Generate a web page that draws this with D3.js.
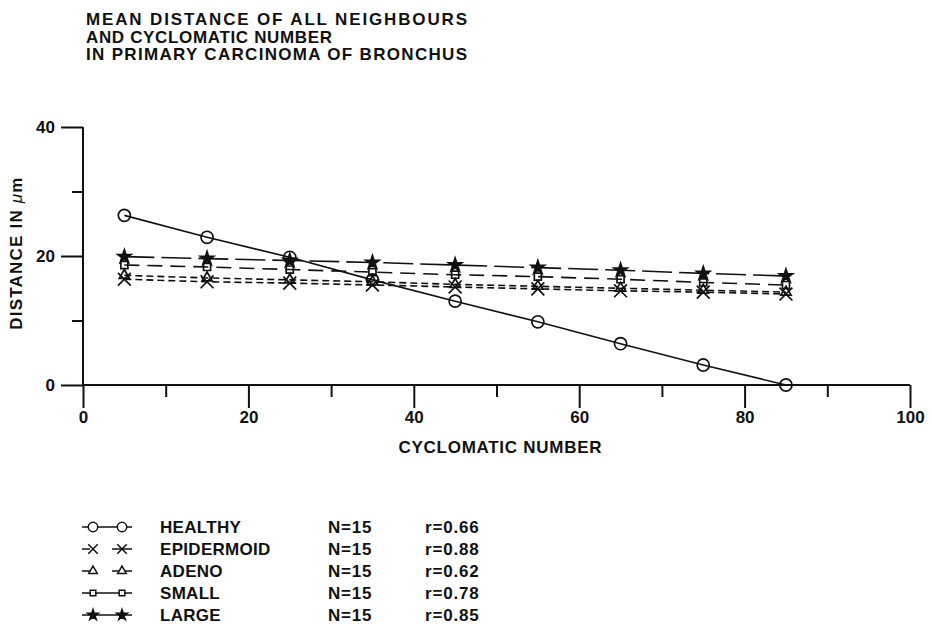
<!DOCTYPE html>
<html>
<head>
<meta charset="utf-8">
<script src="https://cdn.jsdelivr.net/npm/d3@7"></script>
<style>
  html, body { margin: 0; padding: 0; background: #fff; }
  svg { display: block; }
  text { font-family: "Liberation Sans", Arial, sans-serif; font-weight: bold; fill: #111; }
</style>
</head>
<body>
<svg id="chart" width="932" height="627"></svg>
<script>
// ---- data ----
const titleLines = ["MEAN DISTANCE OF ALL NEIGHBOURS", "AND CYCLOMATIC NUMBER", "IN PRIMARY CARCINOMA OF BRONCHUS"];
const cyclomatic = [5, 15, 25, 35, 45, 55, 65, 75, 85];
const healthy    = [26.3, 22.9, 19.8, 16.3, 13.0, 9.8, 6.4, 3.1, 0.0];
const epidermoid = [16.4, 16.0, 15.8, 15.5, 15.2, 14.9, 14.6, 14.4, 14.1];
const adeno      = [17.0, 16.6, 16.3, 16.0, 15.6, 15.3, 15.0, 14.7, 14.4];
const small      = [18.6, 18.3, 17.9, 17.5, 17.1, 16.8, 16.4, 15.9, 15.5];
const large      = [19.9, 19.6, 19.3, 19.0, 18.6, 18.2, 17.8, 17.3, 16.9];
const seriesNames = ["HEALTHY", "EPIDERMOID", "ADENO", "SMALL", "LARGE"];
const nLabels = ["N=15", "N=15", "N=15", "N=15", "N=15"];
const rLabels = ["r=0.66", "r=0.88", "r=0.62", "r=0.78", "r=0.85"];
const xTicks = [0, 20, 40, 60, 80, 100];
const xMinorTicks = [10, 30, 50, 70, 90];
const yTicks = [0, 20, 40];
const yMinorTicks = [10, 30];
const xTitle = "CYCLOMATIC NUMBER";

// ---- styles ----
const seriesData = [healthy, epidermoid, adeno, small, large];
const dashes = [null, "7,4", "7,4", "15,8", "30,7"];
const symbols = [d3.symbolCircle, d3.symbolTimes, d3.symbolTriangle, d3.symbolSquare, d3.symbolStar];
const symSizes = [115, 110, 45, 50, 55];
const symFill = ["none", "none", "none", "none", "#111"];
const legendSizes = [70, 60, 32, 32, 35];

const svg = d3.select("#chart");
const x = d3.scaleLinear().domain([0, 100]).range([83, 910]);
const y = d3.scaleLinear().domain([0, 40]).range([385, 127]);

// title
const titleWidths = [381, 246, 381];
svg.append("g").selectAll("text").data(titleLines).join("text")
  .attr("x", 86).attr("y", (d, i) => 25 + i * 17.5)
  .attr("font-size", 17)
  .attr("textLength", (d, i) => titleWidths[i])
  .attr("lengthAdjust", "spacing")
  .text(d => d);

// axes
const xAxisMajor = d3.axisBottom(x).tickValues(xTicks).tickSize(23).tickPadding(3).tickFormat(d3.format("d"));
const xAxisMinor = d3.axisBottom(x).tickValues(xMinorTicks).tickSize(12).tickFormat("");
const yAxisMajor = d3.axisLeft(y).tickValues(yTicks).tickSize(22).tickPadding(6).tickFormat(d3.format("d"));
const yAxisMinor = d3.axisLeft(y).tickValues(yMinorTicks).tickSize(11).tickFormat("");

function styleAxis(g) {
  g.select(".domain").attr("stroke", "#111").attr("stroke-width", 2);
  g.selectAll(".tick line").attr("stroke", "#111").attr("stroke-width", 2);
  g.selectAll(".tick text").attr("font-size", 17).attr("fill", "#111")
    .attr("font-family", "'Liberation Sans', Arial, sans-serif").attr("font-weight", "bold");
}
svg.append("g").attr("transform", "translate(0,385)").call(xAxisMajor).call(styleAxis)
  .call(g => g.select(".domain").attr("d", "M83,0H910"));
svg.append("g").attr("transform", "translate(0,385)").call(xAxisMinor).call(styleAxis)
  .call(g => g.select(".domain").remove());
svg.append("g").attr("transform", "translate(83,0)").call(yAxisMajor).call(styleAxis)
  .call(g => g.select(".domain").attr("d", "M0,127V385"));
svg.append("g").attr("transform", "translate(83,0)").call(yAxisMinor).call(styleAxis)
  .call(g => g.select(".domain").remove());

// axis titles
svg.append("text").attr("x", 500).attr("y", 453).attr("text-anchor", "middle")
  .attr("font-size", 17).attr("textLength", 203).attr("lengthAdjust", "spacing").text(xTitle);
const yl = svg.append("text").attr("transform", "translate(22,253) rotate(-90)")
  .attr("text-anchor", "middle").attr("font-size", 17).attr("letter-spacing", 1.2);
yl.append("tspan").text("DISTANCE IN ");
yl.append("tspan").attr("font-style", "italic").attr("font-weight", "normal").text("\u03bc");
yl.append("tspan").text("m");

// series lines and markers
const line = d3.line().x(d => x(d[0])).y(d => y(d[1]));
seriesData.forEach((vals, i) => {
  const pts = cyclomatic.map((c, j) => [c, vals[j]]);
  svg.append("path").datum(pts).attr("d", line)
    .attr("fill", "none").attr("stroke", "#111").attr("stroke-width", 1.6)
    .attr("stroke-dasharray", dashes[i]);
  svg.append("g").selectAll("path").data(pts).join("path")
    .attr("transform", d => `translate(${x(d[0])},${y(d[1])})`)
    .attr("d", d3.symbol().type(symbols[i]).size(symSizes[i]))
    .attr("fill", symFill[i] === "none" ? "#fff" : symFill[i])
    .attr("fill-opacity", symFill[i] === "none" ? 0 : 1)
    .attr("stroke", "#111").attr("stroke-width", 1.7);
});

// legend
const legendY = [527, 549, 571, 593, 615];
const lg = svg.append("g");
seriesNames.forEach((name, i) => {
  const yy = legendY[i];
  lg.append("line").attr("x1", 82).attr("x2", 132).attr("y1", yy).attr("y2", yy)
    .attr("stroke", "#111").attr("stroke-width", 1.5)
    .attr("stroke-dasharray", i === 1 || i === 2 ? "8,22,20" : null);
  [93, 122].forEach(mx => {
    lg.append("path").attr("transform", `translate(${mx},${yy})`)
      .attr("d", d3.symbol().type(symbols[i]).size(legendSizes[i]))
      .attr("fill", symFill[i] === "none" ? "#fff" : "#111")
      .attr("stroke", "#111").attr("stroke-width", 1.5);
  });
  lg.append("text").attr("x", 160).attr("y", yy + 6).attr("font-size", 17)
    .attr("letter-spacing", 0.3).text(name);
  lg.append("text").attr("x", 328).attr("y", yy + 6).attr("font-size", 17)
    .attr("letter-spacing", 0.8).text(nLabels[i]);
  lg.append("text").attr("x", 425).attr("y", yy + 6).attr("font-size", 17)
    .attr("letter-spacing", 0.8).text(rLabels[i]);
});
</script>
</body>
</html>
